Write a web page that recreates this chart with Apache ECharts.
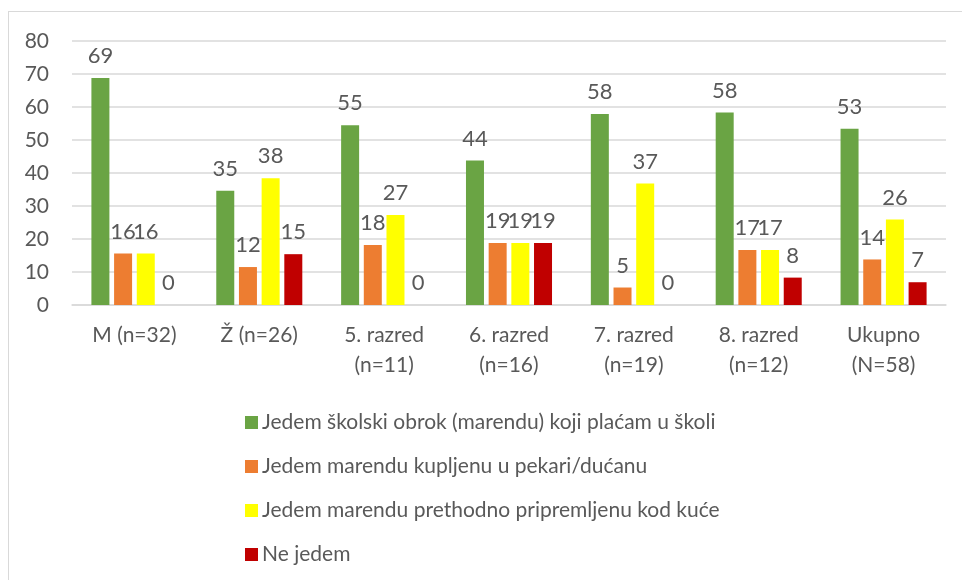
<!DOCTYPE html>
<html>
<head>
<meta charset="utf-8">
<script src="https://cdn.jsdelivr.net/npm/echarts@6/dist/echarts.min.js"></script>
<style>
    body { margin: 0; background: #fff; }
    #wrap { position: relative; width: 962px; height: 580px; overflow: hidden; }
    #frame { position: absolute; left: 8px; top: 11px; width: 1000px; height: 700px; border: 1px solid #d9d9d9; }
    #chart { position: absolute; left: 0; top: 0; width: 962px; height: 580px; }
</style>
</head>
<body>
<div id="wrap">
    <div id="frame"></div>
    <div id="chart"></div>
</div>
<script>
const categories = ["M (n=32)", "Ž (n=26)", "5. razred\n(n=11)", "6. razred\n(n=16)", "7. razred\n(n=19)", "8. razred\n(n=12)", "Ukupno\n(N=58)"];
const seriesNames = [
    "Jedem školski obrok (marendu) koji plaćam u školi",
    "Jedem marendu kupljenu u pekari/dućanu",
    "Jedem marendu prethodno pripremljenu kod kuće",
    "Ne jedem"
];
const skolski = [68.8, 34.6, 54.5, 43.8, 57.9, 58.3, 53.4];
const pekara = [15.6, 11.5, 18.2, 18.8, 5.3, 16.7, 13.8];
const kuca = [15.6, 38.4, 27.3, 18.8, 36.8, 16.7, 25.9];
const neJedem = [0, 15.4, 0, 18.8, 0, 8.3, 6.9];
const colors = ["#6aa444", "#ed7d31", "#ffff00", "#c00000"];

const font = "Lato, 'Open Sans', sans-serif";
const textColor = "#595959";

const chart = echarts.init(document.getElementById("chart"));

const makeSeries = (name, data, color) => ({
    name: name,
    type: "bar",
    data: data,
    barWidth: 18,
    barGap: "26%",
    itemStyle: {color: color},
    label: {
        show: true,
        position: "top",
        distance: 11,
        color: textColor,
        fontFamily: font,
        fontSize: 22,
        formatter: (p) => Math.round(p.value)
    }
});

chart.setOption({
    animation: false,
    textStyle: {fontFamily: font},
    grid: {left: 72, right: 16, top: 41, bottom: 275},
    legend: {
        orient: "vertical",
        left: 240,
        top: 407,
        itemWidth: 13,
        itemHeight: 13,
        itemGap: 23,
        icon: "rect",
        textStyle: {color: textColor, fontFamily: font, fontSize: 21, padding: [0, 0, 0, -1]},
        data: seriesNames
    },
    xAxis: {
        type: "category",
        data: categories,
        axisLine: {lineStyle: {color: "#d9d9d9", width: 1.5}},
        axisTick: {show: false},
        axisLabel: {color: textColor, fontFamily: font, fontSize: 21, lineHeight: 30, margin: 15}
    },
    yAxis: {
        type: "value",
        min: 0,
        max: 80,
        interval: 10,
        axisLine: {show: false},
        axisTick: {show: false},
        splitLine: {lineStyle: {color: "#d9d9d9", width: 1.5}},
        axisLabel: {color: textColor, fontFamily: font, fontSize: 21, margin: 23}
    },
    series: [
        makeSeries(seriesNames[0], skolski, colors[0]),
        makeSeries(seriesNames[1], pekara, colors[1]),
        makeSeries(seriesNames[2], kuca, colors[2]),
        makeSeries(seriesNames[3], neJedem, colors[3])
    ]
});
</script>
</body>
</html>
